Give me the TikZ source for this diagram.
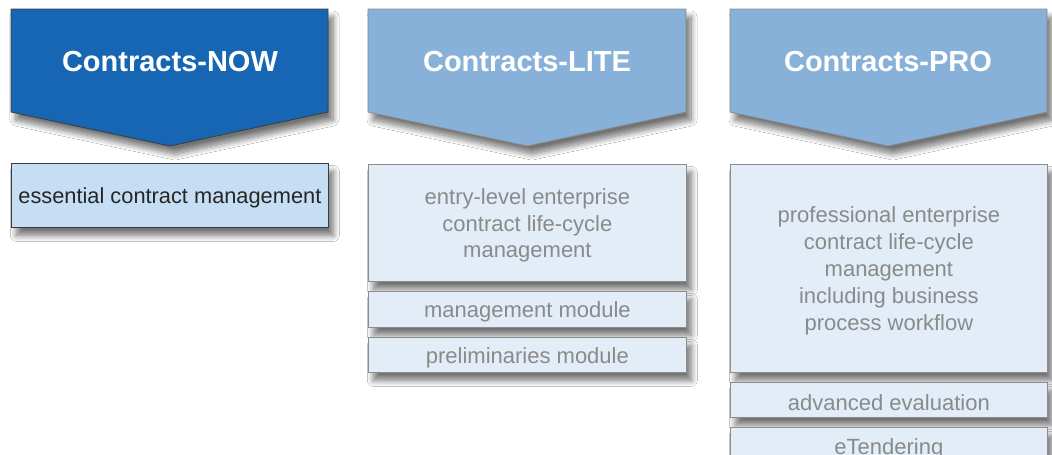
\documentclass[tikz,border=0pt]{standalone}
\usepackage{fontspec}
\setmainfont{Liberation Sans}
\usetikzlibrary{shadows.blur}
\definecolor{darkblue}{HTML}{1666B3}
\definecolor{lightblue}{HTML}{87B1D9}
\definecolor{nowfill}{HTML}{C6DEF3}
\definecolor{boxfill}{HTML}{E2EDF8}
\definecolor{graytext}{HTML}{8A8A8A}
\definecolor{grayline}{HTML}{8C8C8C}
\definecolor{darkline}{HTML}{3C3C3C}
\tikzset{
  shad/.style={blur shadow={shadow xshift=5pt, shadow yshift=-8pt, shadow blur radius=6pt, shadow blur steps=10, shadow opacity=55}},
  pentanow/.style={draw=darkline, fill=darkblue, line width=0.8pt, shad},
  pentalite/.style={draw=grayline, fill=lightblue, line width=0.8pt, shad},
  title/.style={text=white, font=\bfseries\fontsize{29}{34}\selectfont},
  nowbox/.style={draw=darkline, fill=nowfill, line width=0.8pt, shad, anchor=north west, inner sep=0pt},
  graybox/.style={draw=grayline, fill=boxfill, line width=0.8pt, shad, anchor=north west, inner sep=0pt},
  nowtext/.style={text=black!85, font=\fontsize{21.8}{26.5}\selectfont, align=center, yshift=-2.5pt},
  graytxt/.style={text=graytext, font=\fontsize{22}{26.8}\selectfont, align=center, yshift=-2.5pt},
}
\begin{document}
\begin{tikzpicture}[x=1pt,y=-1pt]
\useasboundingbox[fill=white] (0,0) rectangle (1052,455);
% header pentagons
\path[pentanow]  (11,9) -- (328,9) -- (328,112) -- (170,146) -- (11,112) -- cycle;
\path[pentalite] (368,9) -- (686,9) -- (686,112) -- (527,146) -- (368,112) -- cycle;
\path[pentalite] (730,9) -- (1047,9) -- (1047,112) -- (888,146) -- (730,112) -- cycle;
\node[title] (tnow)  at (170,62) {Contracts-NOW};
\node[title] (tlite) at (527,62) {Contracts-LITE};
\node[title] (tpro)  at (888,62) {Contracts-PRO};
% NOW column
\node[nowbox, minimum width=317pt, minimum height=64pt] (now1) at (11,163) {};
\node[nowtext] (now1t) at (now1.center) {essential contract management};
% LITE column
\node[graybox, minimum width=318pt, minimum height=117pt] (lite1) at (368,164) {};
\node[graytxt] (lite1t) at (lite1.center) {entry-level enterprise\\contract life-cycle\\management};
\node[graybox, minimum width=318pt, minimum height=36pt] (lite2) at (368,291) {};
\node[graytxt] (lite2t) at (lite2.center) {management module};
\node[graybox, minimum width=318pt, minimum height=35pt] (lite3) at (368,337) {};
\node[graytxt] (lite3t) at (lite3.center) {preliminaries module};
% PRO column
\node[graybox, minimum width=317pt, minimum height=208pt] (pro1) at (730,164) {};
\node[graytxt] (pro1t) at (pro1.center) {professional enterprise\\contract life-cycle\\management\\including business\\process workflow};
\node[graybox, minimum width=317pt, minimum height=35pt] (pro2) at (730,382) {};
\node[graytxt] (pro2t) at (pro2.center) {advanced evaluation};
\node[graybox, minimum width=317pt, minimum height=38pt] (pro3) at (730,427) {};
\node[graytxt] (pro3t) at (pro3.center) {eTendering};
\end{tikzpicture}
\end{document}
